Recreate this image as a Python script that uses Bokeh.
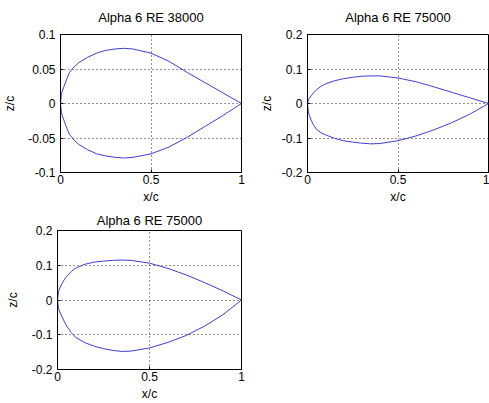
from bokeh.plotting import figure
from bokeh.layouts import column, row
from bokeh.models import Range1d, FixedTicker
from bokeh.embed import file_html
from bokeh.resources import INLINE

# ---- data ----
x_pts = [0, 0.005, 0.01, 0.02, 0.035, 0.05, 0.075, 0.1, 0.15, 0.2, 0.25, 0.3, 0.35, 0.4, 0.5, 0.6, 0.7, 0.8, 0.9, 1.0]

upper_38000 = [0, 0.013, 0.018, 0.025, 0.036, 0.045, 0.053, 0.059, 0.067, 0.073, 0.077, 0.079, 0.080, 0.079, 0.073, 0.061, 0.045, 0.030, 0.015, 0.0]
lower_38000 = [0, -0.013, -0.018, -0.025, -0.036, -0.045, -0.053, -0.059, -0.067, -0.073, -0.076, -0.078, -0.079, -0.078, -0.073, -0.063, -0.049, -0.033, -0.017, 0.0]

upper_75000a = [0, 0.010, 0.015, 0.022, 0.032, 0.040, 0.050, 0.057, 0.066, 0.072, 0.076, 0.079, 0.080, 0.080, 0.074, 0.063, 0.048, 0.032, 0.016, 0.0]
lower_75000a = [0, -0.025, -0.035, -0.048, -0.064, -0.075, -0.085, -0.091, -0.101, -0.108, -0.112, -0.115, -0.117, -0.116, -0.108, -0.094, -0.076, -0.055, -0.030, 0.0]

upper_75000b = [0, 0.022, 0.031, 0.043, 0.057, 0.068, 0.082, 0.092, 0.103, 0.109, 0.112, 0.114, 0.115, 0.114, 0.106, 0.091, 0.072, 0.050, 0.026, 0.0]
lower_75000b = [0, -0.022, -0.031, -0.043, -0.060, -0.075, -0.094, -0.108, -0.123, -0.133, -0.140, -0.145, -0.148, -0.147, -0.138, -0.122, -0.102, -0.075, -0.042, 0.0]

titles = ["Alpha 6 RE 38000", "Alpha 6 RE 75000", "Alpha 6 RE 75000"]
x_ticks = [0, 0.5, 1]
x_tick_labels = ["0", "0.5", "1"]
y_ticks_small = [-0.1, -0.05, 0, 0.05, 0.1]
y_tick_labels_small = ["-0.1", "-0.05", "0", "0.05", "0.1"]
y_ticks_big = [-0.2, -0.1, 0, 0.1, 0.2]
y_tick_labels_big = ["-0.2", "-0.1", "0", "0.1", "0.2"]

FONT = "Liberation Sans"
LINE_COLOR = "#3f3fcc"


def make_panel(title, upper, lower, yticks, ylabels, w, h, bl, br, bt, bb,
               ylab_standoff, title_standoff, title_valign):
    p = figure(width=w, height=h,
               x_range=Range1d(0, 1), y_range=Range1d(yticks[0], yticks[-1]),
               output_backend="svg", toolbar_location=None,
               min_border_left=bl, min_border_right=br,
               min_border_top=bt, min_border_bottom=bb,
               background_fill_color="white", border_fill_color="white")
    p.title.text = title
    p.title.align = "center"
    p.title.vertical_align = title_valign
    p.title.text_font = FONT
    p.title.text_font_size = "13px"
    p.title.text_font_style = "normal"
    p.title.text_color = "black"
    p.title.standoff = title_standoff
    p.title.offset = 0

    p.outline_line_color = "black"
    p.outline_line_width = 1
    p.outline_line_alpha = 1

    for ax in (p.xaxis[0], p.yaxis[0]):
        ax.axis_line_color = "black"
        ax.major_tick_line_color = "black"
        ax.major_tick_in = 3
        ax.major_tick_out = 0
        ax.minor_tick_line_color = None
        ax.major_label_text_font = FONT
        ax.major_label_text_font_size = "12px"
        ax.major_label_text_color = "black"
        ax.axis_label_text_font = FONT
        ax.axis_label_text_font_size = "12px"
        ax.axis_label_text_font_style = "normal"
        ax.axis_label_text_color = "black"

    p.xaxis[0].ticker = FixedTicker(ticks=x_ticks)
    p.xaxis[0].major_label_overrides = {t: s for t, s in zip(x_ticks, x_tick_labels)}
    p.xaxis[0].axis_label = "x/c"
    p.xaxis[0].major_label_standoff = 2
    p.xaxis[0].axis_label_standoff = 3
    p.yaxis[0].ticker = FixedTicker(ticks=yticks)
    p.yaxis[0].major_label_overrides = {t: s for t, s in zip(yticks, ylabels)}
    p.yaxis[0].axis_label = "z/c"
    p.yaxis[0].major_label_standoff = 5
    p.yaxis[0].axis_label_standoff = ylab_standoff

    for g in (p.xgrid[0], p.ygrid[0]):
        g.grid_line_color = "black"
        g.grid_line_dash = "1 3"
        g.grid_line_alpha = 0.85
        g.grid_line_width = 1
    p.xgrid[0].ticker = FixedTicker(ticks=x_ticks)
    p.ygrid[0].ticker = FixedTicker(ticks=yticks)

    xs = list(reversed(x_pts)) + x_pts[1:]
    zs = list(reversed(upper)) + lower[1:]
    p.line(xs, zs, line_color=LINE_COLOR, line_width=1)
    return p


p1 = make_panel(titles[0], upper_38000, lower_38000, y_ticks_small, y_tick_labels_small,
                256, 208, 57, 15, 34, 36, 8, 15, "top")
p2 = make_panel(titles[1], upper_75000a, lower_75000a, y_ticks_big, y_tick_labels_big,
                233, 208, 48, 1, 34, 36, 5, 15, "top")
p3 = make_panel(titles[2], upper_75000b, lower_75000b, y_ticks_big, y_tick_labels_big,
                256, 195, 57, 15, 22, 34, 9, 5, "bottom")

layout = column(row(p1, p2, spacing=0), row(p3, spacing=0), spacing=0)

open("out.html", "w").write(file_html(layout, INLINE))
